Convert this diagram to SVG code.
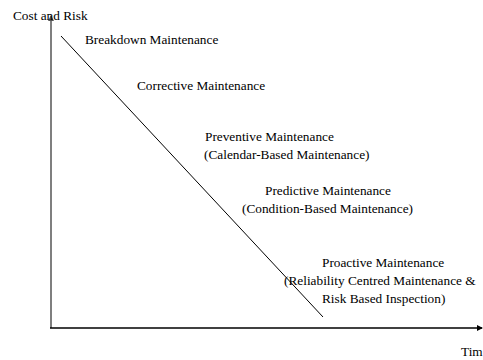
<svg xmlns="http://www.w3.org/2000/svg" width="483" height="360" viewBox="0 0 483 360">
<style>
text{font-family:"Liberation Serif","Times New Roman",serif;font-size:13.3px;fill:#000}
.ax{fill:none;stroke-width:1.5}
</style>
<defs>
<marker id="ahg" markerWidth="6" markerHeight="6" refX="5" refY="3" orient="auto" markerUnits="userSpaceOnUse"><path d="M0,0 L6,3 L0,6 z" fill="#555"/></marker>
<marker id="ahb" markerWidth="6" markerHeight="6" refX="5" refY="3" orient="auto" markerUnits="userSpaceOnUse"><path d="M0,0 L6,3 L0,6 z" fill="#000"/></marker>
</defs>
<rect width="483" height="360" fill="#fff"/>
<g id="connectors">
<line class="ax" x1="51" y1="328" x2="51" y2="16" stroke="#555" marker-end="url(#ahg)"/>
<line class="ax" x1="50" y1="328" x2="482" y2="328" stroke="#000" marker-end="url(#ahb)"/>
<line x1="61" y1="36" x2="323" y2="317" stroke="#000" stroke-width="1"/>
</g>
<g id="yaxis-label"><text x="13" y="20">Cost and Risk</text></g>
<g id="xaxis-label"><text x="461" y="356">Tim</text></g>
<g id="breakdown"><text x="85" y="44">Breakdown Maintenance</text></g>
<g id="corrective"><text x="137" y="90">Corrective Maintenance</text></g>
<g id="preventive">
<text x="205" y="141">Preventive Maintenance</text>
<text x="204" y="159">(Calendar-Based Maintenance)</text>
</g>
<g id="predictive">
<text x="265" y="195">Predictive Maintenance</text>
<text x="242" y="213">(Condition-Based Maintenance)</text>
</g>
<g id="proactive">
<text x="322" y="267">Proactive Maintenance</text>
<text x="284" y="285">(Reliability Centred Maintenance &amp;</text>
<text x="322" y="303">Risk Based Inspection)</text>
</g>
</svg>
